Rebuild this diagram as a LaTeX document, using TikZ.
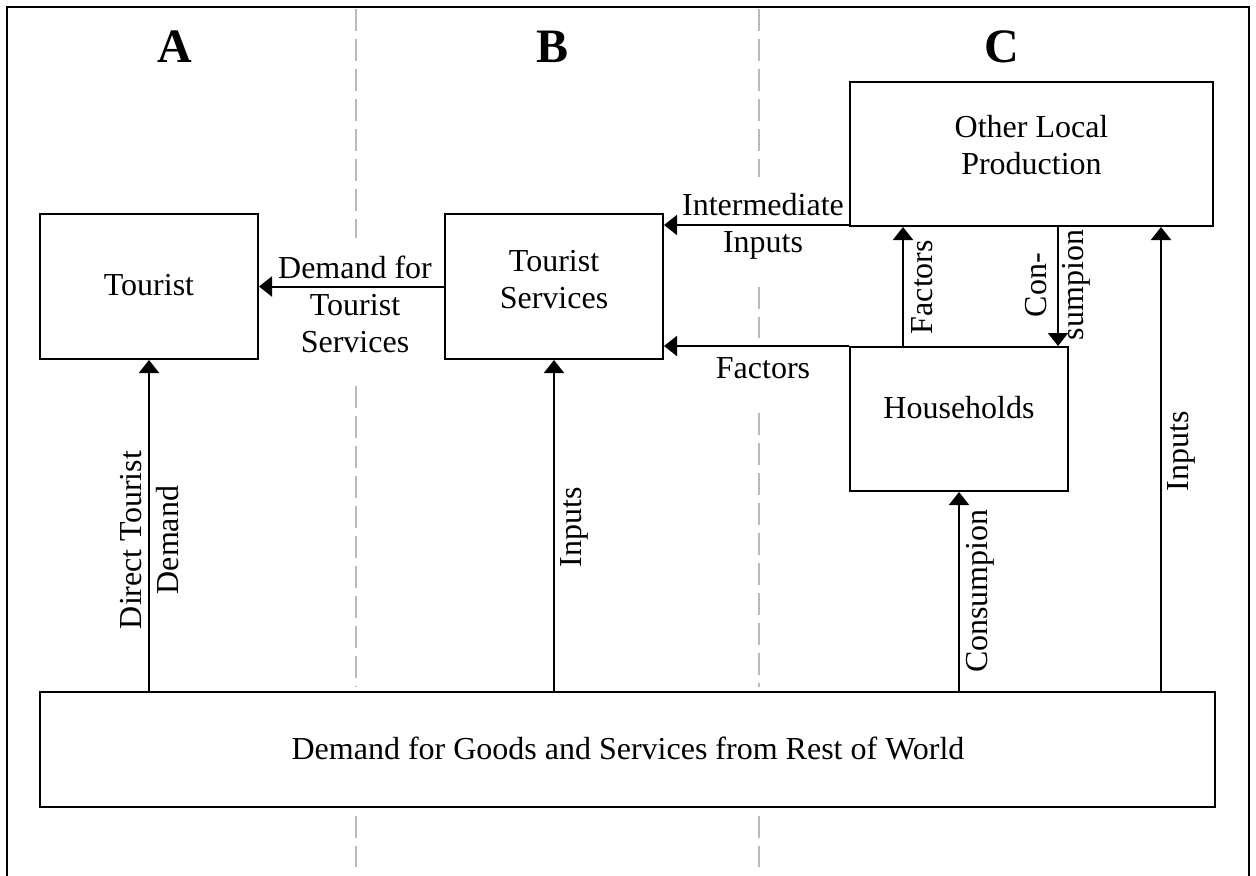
\documentclass[tikz,border=0pt]{standalone}
\usepackage{fontspec}
\setmainfont{Liberation Serif}
\usetikzlibrary{arrows.meta}
\begin{document}
\begin{tikzpicture}[x=0.5pt,y=-0.5pt,
  box/.style={draw, line width=1pt, inner sep=0pt},
  txt/.style={font=\fontsize{16}{18.5}\selectfont, inner sep=0pt, align=center},
  rtxt/.style={txt, rotate=90},
  head/.style={font=\fontsize{24}{28}\selectfont\bfseries, inner sep=0pt},
  arr/.style={line width=1pt, -{Triangle[length=6.5pt,width=10pt]}},
  divider/.style={draw=black!27, line width=0.8pt, dash pattern=on 11pt off 4pt},
  frameline/.style={line width=1.3pt}]
\useasboundingbox (0,0) rectangle (1256,875);

% outer frame (open at the bottom)
\draw[frameline] (7,880) -- (7,7) -- (1249,7) -- (1249,880);

% dashed dividers
\draw[divider] (356,9) -- (356,238);
\draw[divider] (356,386) -- (356,687);
\draw[divider] (356,816) -- (356,867);
\draw[divider] (759,9) -- (759,177);
\draw[divider] (759,287) -- (759,338);
\draw[divider] (759,413) -- (759,687);
\draw[divider] (759,816) -- (759,867);

% headings
\node[head, anchor=base] (hA) at (175,62) {A};
\node[head, anchor=base] (hB) at (552,62) {B};
\node[head, anchor=base] (hC) at (1002,62) {C};

% boxes
\node[box, minimum width=109pt, minimum height=72.5pt] (tourist) at (149,286.5) {};
\node[box, minimum width=109pt, minimum height=72.5pt] (ts) at (554,286.5) {};
\node[box, minimum width=181.5pt, minimum height=72pt] (olp) at (1031.5,154) {};
\node[box, minimum width=109pt, minimum height=72pt] (hh) at (959,419) {};
\node[box, minimum width=587.5pt, minimum height=57.5pt] (row) at (627.5,749.5) {};

% box texts
\node[txt, anchor=base] (tourist-t) at (149,295) {Tourist};
\node[txt] (ts-t) at (554,279.5) {Tourist\\Services};
\node[txt] (olp-t) at (1031.5,145.5) {Other Local\\Production};
\node[txt, anchor=base] (hh-t) at (959,418) {Households};
\node[txt, anchor=base] (row-t) at (628,759) {Demand for Goods and Services from Rest of World};

% connectors
\coordinate (fx) at (903,0);
\coordinate (cx) at (1058,0);
\coordinate (ix) at (1161,0);
\draw[arr] (ts.west) -- (tourist.east);
\draw[arr] ([yshift=1pt]olp.south west) -- ([yshift=1pt]olp.south west -| ts.east);
\draw[arr] (hh.north west) -- (hh.north west -| ts.east);
\draw[arr] (fx |- hh.north) -- (fx |- olp.south);
\draw[arr] (cx |- olp.south) -- (cx |- hh.north);
\draw[arr] (row.north -| tourist.south) -- (tourist.south);
\draw[arr] (row.north -| ts.south) -- (ts.south);
\draw[arr] (row.north -| hh.south) -- (hh.south);
\draw[arr] (ix |- row.north) -- (ix |- olp.south);

% connector labels
\node[txt] (l-dts) at (355,304) {Demand for\\Tourist\\Services};
\node[txt] (l-ii) at (763,226) {Intermediate\\Inputs};
\node[txt, anchor=base] (l-fh) at (763,378) {Factors};
\node[rtxt] (l-fv) at (922,287) {Factors};
\node[rtxt] (l-cv) at (1058,285) {Con-\\sumpion};
\node[rtxt] (l-dtd) at (150,540) {Direct Tourist\\Demand};
\node[rtxt] (l-in1) at (574,527) {Inputs};
\node[rtxt] (l-cons) at (980,591) {Consumpion};
\node[rtxt] (l-in2) at (1181,451) {Inputs};
\end{tikzpicture}
\end{document}
